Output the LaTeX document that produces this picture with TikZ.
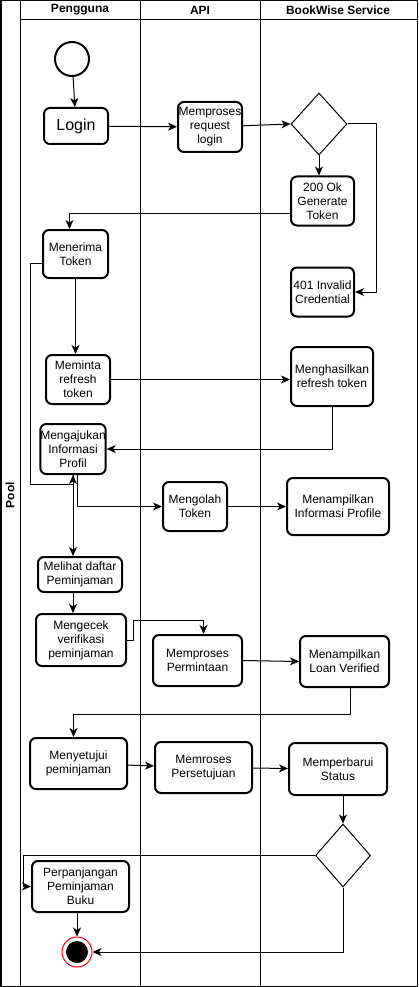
\documentclass[tikz,border=0pt]{standalone}
\usepackage{fontspec}
\setmainfont{Liberation Sans}
\usetikzlibrary{arrows.meta,shapes.geometric}

\begin{document}
\begin{tikzpicture}[x=1pt, y=-1pt,
  act/.style={draw, line width=2pt, rounded corners=6pt, align=center, inner sep=0pt, font=\fontsize{12}{14}\selectfont},
  dec/.style={diamond, draw, line width=1pt, inner sep=0pt},
  arr/.style={line width=1pt, -{Stealth[length=9pt, width=8pt, inset=2.5pt]}},
  lane/.style={line width=1pt},
  head/.style={font=\bfseries\fontsize{12}{14}\selectfont}]
  \useasboundingbox (0,0) rectangle (418,987);
  % pool and lanes
  \draw[line width=1.5pt] (0.75,0.75) rectangle (417.25,986.25);
  \draw[lane] (20,0) -- (20,987);
  \draw[lane] (140,0) -- (140,987);
  \draw[lane] (260,0) -- (260,987);
  \draw[lane] (20,20) -- (418,20);
  \node[head, rotate=90] (pool) at (10,495) {Pool};
  \node[head] (pengguna) at (80,10) {Pengguna};
  \node[head] (api) at (200,10) {API};
  \node[head] (service) at (338,10) {BookWise Service};
  % login flow
  \node[circle, draw, line width=2pt, minimum size=34, inner sep=0pt] (start) at (72,59) {};
  \node[act, minimum width=64, minimum height=36, font=\fontsize{16}{19}\selectfont] (login) at (76,126) {Login};
  \node[act, minimum width=64, minimum height=50] (reqlogin) at (210,127) {Memproses\\request\\login};
  \node[dec, minimum width=56, minimum height=62] (cek1) at (319,124) {};
  \node[act, minimum width=63, minimum height=49] (ok) at (322.5,201) {200 Ok\\Generate\\Token};
  \node[act, minimum width=63, minimum height=49] (inv) at (322.5,292) {401 Invalid\\Credential};
  \node[act, minimum width=65, minimum height=48] (terima) at (75.5,254) {Menerima\\Token};
  % token and profile
  \node[act, minimum width=64, minimum height=49] (minta) at (78,379.5) {Meminta\\refresh\\token};
  \node[act, minimum width=82, minimum height=59] (hasil) at (332,376.5) {Menghasilkan\\refresh token};
  \node[act, minimum width=64, minimum height=50] (ajukan) at (73,449) {Mengajukan\\Informasi\\Profil};
  \node[act, minimum width=64, minimum height=49] (olah) at (195,506.5) {Mengolah\\Token};
  \node[act, minimum width=102, minimum height=57] (profil) at (338,506.5) {Menampilkan\\Informasi Profile};
  % loan
  \node[act, minimum width=84, minimum height=35] (lihat) at (80,574.5) {Melihat daftar\\Peminjaman};
  \node[act, minimum width=90, minimum height=52] (cek) at (81,640) {Mengecek\\verifikasi\\peminjaman};
  \node[act, minimum width=89, minimum height=51] (mproses) at (197.5,660.5) {Memproses\\Permintaan};
  \node[act, minimum width=89, minimum height=51] (loan) at (344.5,661.5) {Menampilkan\\Loan Verified};
  \node[act, minimum width=97, minimum height=51] (setuju) at (78.5,763.5) {Menyetujui\\peminjaman};
  \node[act, minimum width=97, minimum height=51] (persetujuan) at (203.5,767.5) {Memroses\\Persetujuan};
  \node[act, minimum width=98, minimum height=52] (perbarui) at (338,769) {Memperbarui\\Status};
  \node[dec, minimum width=55, minimum height=63] (cek2) at (343,855.5) {};
  \node[act, minimum width=97, minimum height=51] (panjang) at (80.5,886.5) {Perpanjangan\\Peminjaman\\Buku};
  \node[circle, draw=red, line width=1pt, minimum size=30, inner sep=0pt] (end) at (77,952) {};
  \fill (end) circle (11);
  % connectors
  \draw[arr] (start) -- (login);
  \draw[arr] (login) -- (reqlogin);
  \draw[arr] (reqlogin) -- (cek1.west);
  \draw[arr] (cek1.east) -- ++(29,0) |- (inv.east);
  \draw[arr] (cek1.south) -- (cek1.south |- ok.north);
  \draw[arr] ([yshift=-12pt]ok.west) -| ([xshift=-6pt]terima.north);
  \draw[arr] ([yshift=-9pt]terima.west) -| (30,484) -| (ajukan.south);
  \draw[arr] (terima.south) -- (terima.south |- minta.north);
  \draw[arr] (minta.east) -- (minta.east -| hasil.west);
  \draw[arr] (hasil.south) |- (ajukan.east);
  \draw[arr] ([xshift=4pt]ajukan.south) |- (olah.west);
  \draw[arr] (olah) -- (profil);
  \draw[arr] (ajukan.south) -- (ajukan.south |- lihat.north);
  \draw[arr] (ajukan.south |- lihat.south) -- (ajukan.south |- cek.north);
  \draw[arr] (cek.east) -- ++(6,0) -- ++(0,-20) -| ([xshift=6pt]mproses.north);
  \draw[arr] (mproses.east) -- (loan.west);
  \draw[arr] ([xshift=6pt]loan.south) -- ++(0,26) -| ([xshift=-5pt]setuju.north);
  \draw[arr] (setuju) -- (persetujuan);
  \draw[arr] (persetujuan) -- (perbarui);
  \draw[arr] (cek2.north |- perbarui.south) -- (cek2.north);
  \draw[arr] (cek2.west) -- ++(-292,0) |- (panjang.west);
  \draw[arr] (end.north |- panjang.south) -- (end.north);
  \draw[arr] (cek2.south) |- (end.east);
\end{tikzpicture}
\end{document}
